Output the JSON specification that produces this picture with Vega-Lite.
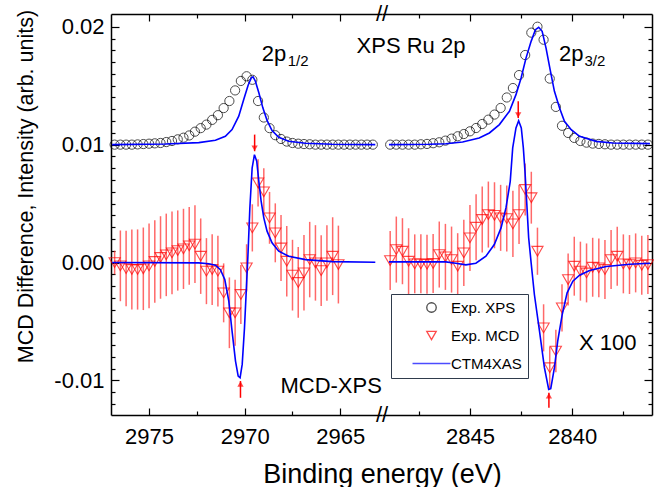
{
  "$schema": "https://vega.github.io/schema/vega-lite/v6.json",
  "padding": {"left": 14, "top": 3, "right": 0, "bottom": 0},
  "spacing": 0,
  "bounds": "flush",
  "config": {
    "font": "Liberation Sans",
    "view": {"stroke": null},
    "axis": {"domainColor": "black", "domainWidth": 1.5, "tickColor": "black", "tickWidth": 1.2, "labelColor": "black", "titleColor": "black", "labelFont": "Liberation Sans", "titleFont": "Liberation Sans", "titleFontWeight": "normal", "grid": false, "labelFontSize": 22, "titleFontSize": 22, "labelOverlap": false}
  },
  "datasets": {
    "xpsL": [
      {"E":2976.8,"v":0.0100},{"E":2976.5,"v":0.0100},{"E":2976.2,"v":0.0100},{"E":2975.9,"v":0.0100},{"E":2975.6,"v":0.01002},{"E":2975.3,"v":0.01005},{"E":2975.0,"v":0.01008},{"E":2974.7,"v":0.01011},{"E":2974.4,"v":0.01014},{"E":2974.1,"v":0.01022},{"E":2973.8,"v":0.01031},{"E":2973.5,"v":0.01045},{"E":2973.2,"v":0.01059},{"E":2972.9,"v":0.01078},{"E":2972.6,"v":0.0111},{"E":2972.3,"v":0.0114},{"E":2972.0,"v":0.0117},{"E":2971.7,"v":0.0121},{"E":2971.4,"v":0.0125},{"E":2971.1,"v":0.0131},{"E":2970.8,"v":0.0137},{"E":2970.5,"v":0.0146},{"E":2970.2,"v":0.0154},{"E":2969.9,"v":0.0158},{"E":2969.6,"v":0.0155},{"E":2969.3,"v":0.0137},{"E":2969.0,"v":0.0123},{"E":2968.7,"v":0.0114},{"E":2968.4,"v":0.0108},{"E":2968.1,"v":0.01048},{"E":2967.8,"v":0.01026},{"E":2967.5,"v":0.01014},{"E":2967.2,"v":0.01008},{"E":2966.9,"v":0.01005},{"E":2966.6,"v":0.01003},{"E":2966.3,"v":0.0100},{"E":2966.0,"v":0.0100},{"E":2965.7,"v":0.0100},{"E":2965.4,"v":0.0100},{"E":2965.1,"v":0.0100},{"E":2964.8,"v":0.0100},{"E":2964.5,"v":0.0100},{"E":2964.2,"v":0.0100},{"E":2963.9,"v":0.0100},{"E":2963.6,"v":0.0100},{"E":2963.3,"v":0.0100}
    ],
    "xpsR": [
      {"E":2848.9,"v":0.0100},{"E":2848.6,"v":0.0100},{"E":2848.3,"v":0.0100},{"E":2848.0,"v":0.0100},{"E":2847.7,"v":0.0100},{"E":2847.4,"v":0.01003},{"E":2847.1,"v":0.01006},{"E":2846.8,"v":0.01012},{"E":2846.5,"v":0.0102},{"E":2846.2,"v":0.01034},{"E":2845.9,"v":0.01051},{"E":2845.6,"v":0.01071},{"E":2845.3,"v":0.0109},{"E":2845.0,"v":0.01113},{"E":2844.7,"v":0.01141},{"E":2844.4,"v":0.01175},{"E":2844.1,"v":0.01212},{"E":2843.8,"v":0.01255},{"E":2843.5,"v":0.01311},{"E":2843.2,"v":0.0140},{"E":2842.9,"v":0.0148},{"E":2842.6,"v":0.0159},{"E":2842.3,"v":0.0176},{"E":2842.0,"v":0.0195},{"E":2841.7,"v":0.0200},{"E":2841.4,"v":0.0189},{"E":2841.1,"v":0.0156},{"E":2840.8,"v":0.0132},{"E":2840.5,"v":0.0116},{"E":2840.2,"v":0.01099},{"E":2839.9,"v":0.01057},{"E":2839.6,"v":0.01031},{"E":2839.3,"v":0.01017},{"E":2839.0,"v":0.01009},{"E":2838.7,"v":0.01006},{"E":2838.4,"v":0.01003},{"E":2838.1,"v":0.0100},{"E":2837.8,"v":0.0100},{"E":2837.5,"v":0.0100},{"E":2837.2,"v":0.0100},{"E":2836.9,"v":0.0100},{"E":2836.6,"v":0.0100},{"E":2836.3,"v":0.0100}
    ],
    "mcdL": [
      {"E":2976.8,"v":0.0000,"err":0.0010},{"E":2976.5,"v":-0.00028,"err":0.0030},{"E":2976.2,"v":-0.00051,"err":0.0032},{"E":2975.9,"v":-0.00059,"err":0.0034},{"E":2975.6,"v":-0.00059,"err":0.0034},{"E":2975.3,"v":-0.00053,"err":0.0035},{"E":2975.0,"v":-0.00028,"err":0.0036},{"E":2974.7,"v":0.00009,"err":0.0035},{"E":2974.4,"v":0.00043,"err":0.0035},{"E":2974.1,"v":0.00065,"err":0.0035},{"E":2973.8,"v":0.00082,"err":0.0035},{"E":2973.5,"v":0.00102,"err":0.0034},{"E":2973.2,"v":0.00116,"err":0.0034},{"E":2972.9,"v":0.00142,"err":0.0033},{"E":2972.6,"v":0.00156,"err":0.0033},{"E":2972.3,"v":0.00054,"err":0.0032},{"E":2972.0,"v":-0.00073,"err":0.0028},{"E":2971.7,"v":-0.00059,"err":0.0030},{"E":2971.4,"v":-0.00073,"err":0.0030},{"E":2971.1,"v":-0.00257,"err":0.0025},{"E":2970.8,"v":-0.00426,"err":0.0030},{"E":2970.5,"v":-0.00426,"err":0.0028},{"E":2970.2,"v":-0.00271,"err":0.0025},{"E":2969.9,"v":-0.00045,"err":0.0020},{"E":2969.6,"v":0.00294,"err":0.0020},{"E":2969.3,"v":0.00676,"err":0.0020},{"E":2969.0,"v":0.0060,"err":0.0020},{"E":2968.7,"v":0.00379,"err":0.0022},{"E":2968.4,"v":0.00252,"err":0.0025},{"E":2968.1,"v":0.00124,"err":0.0028},{"E":2967.8,"v":0.00011,"err":0.0030},{"E":2967.5,"v":-0.00107,"err":0.0030},{"E":2967.2,"v":-0.00169,"err":0.0030},{"E":2966.9,"v":-0.00087,"err":0.0032},{"E":2966.6,"v":0.00025,"err":0.0032},{"E":2966.3,"v":-0.00003,"err":0.0032},{"E":2966.0,"v":-0.00068,"err":0.0030},{"E":2965.7,"v":-0.00003,"err":0.0032},{"E":2965.4,"v":0.00054,"err":0.0033},{"E":2965.1,"v":-0.00017,"err":0.0033}
    ],
    "mcdR": [
      {"E":2848.9,"v":0.00017,"err":0.0025},{"E":2848.6,"v":0.0011,"err":0.0028},{"E":2848.3,"v":0.00096,"err":0.0028},{"E":2848.0,"v":0.00011,"err":0.0028},{"E":2847.7,"v":-0.00011,"err":0.0025},{"E":2847.4,"v":-0.00011,"err":0.0025},{"E":2847.1,"v":-0.00014,"err":0.0025},{"E":2846.8,"v":-0.00008,"err":0.0025},{"E":2846.5,"v":0.00068,"err":0.0028},{"E":2846.2,"v":0.00048,"err":0.0028},{"E":2845.9,"v":0.00025,"err":0.0028},{"E":2845.6,"v":-0.00031,"err":0.0028},{"E":2845.3,"v":0.00082,"err":0.0028},{"E":2845.0,"v":0.00209,"err":0.0028},{"E":2844.7,"v":0.0030,"err":0.0028},{"E":2844.4,"v":0.00365,"err":0.0028},{"E":2844.1,"v":0.00407,"err":0.0028},{"E":2843.8,"v":0.00401,"err":0.0028},{"E":2843.5,"v":0.00379,"err":0.0028},{"E":2843.2,"v":0.00373,"err":0.0028},{"E":2842.9,"v":0.00328,"err":0.0028},{"E":2842.6,"v":0.00407,"err":0.0025},{"E":2842.3,"v":0.0062,"err":0.0022},{"E":2842.0,"v":0.0055,"err":0.0022},{"E":2841.7,"v":0.00096,"err":0.0020},{"E":2841.4,"v":-0.00554,"err":0.0020},{"E":2841.1,"v":-0.00892,"err":0.0018},{"E":2840.8,"v":-0.00751,"err":0.0018},{"E":2840.5,"v":-0.00384,"err":0.0020},{"E":2840.2,"v":-0.00144,"err":0.0022},{"E":2839.9,"v":-0.00031,"err":0.0025},{"E":2839.6,"v":-0.00073,"err":0.0025},{"E":2839.3,"v":-0.00088,"err":0.0025},{"E":2839.0,"v":-0.0004,"err":0.0025},{"E":2838.7,"v":-0.00045,"err":0.0025},{"E":2838.4,"v":-0.00059,"err":0.0025},{"E":2838.1,"v":0.00025,"err":0.0025},{"E":2837.8,"v":0.00054,"err":0.0025},{"E":2837.5,"v":-0.00011,"err":0.0025},{"E":2837.2,"v":-0.00017,"err":0.0025},{"E":2836.9,"v":-0.00003,"err":0.0025},{"E":2836.6,"v":-0.00023,"err":0.0025},{"E":2836.3,"v":-0.00017,"err":0.0025}
    ],
    "ctmL": [
      {"c":"xps","E":2976.93,"v":0.0100},{"c":"xps","E":2974.14,"v":0.01006},{"c":"xps","E":2972.40,"v":0.01017},{"c":"xps","E":2971.53,"v":0.01037},{"c":"xps","E":2971.01,"v":0.01071},{"c":"xps","E":2970.66,"v":0.01128},{"c":"xps","E":2970.31,"v":0.01241},{"c":"xps","E":2970.05,"v":0.01382},{"c":"xps","E":2969.82,"v":0.01504},{"c":"xps","E":2969.65,"v":0.01567},{"c":"xps","E":2969.56,"v":0.01575},{"c":"xps","E":2969.44,"v":0.01538},{"c":"xps","E":2969.26,"v":0.0144},{"c":"xps","E":2969.05,"v":0.01312},{"c":"xps","E":2968.83,"v":0.01205},{"c":"xps","E":2968.57,"v":0.0112},{"c":"xps","E":2968.22,"v":0.01063},{"c":"xps","E":2967.70,"v":0.01029},{"c":"xps","E":2966.82,"v":0.01012},{"c":"xps","E":2965.43,"v":0.01003},{"c":"xps","E":2963.17,"v":0.0100},
      {"c":"mcd","E":2976.93,"v":0.0},{"c":"mcd","E":2972.40,"v":-0.00003},{"c":"mcd","E":2971.88,"v":-0.0001},{"c":"mcd","E":2971.53,"v":-0.00023},{"c":"mcd","E":2971.27,"v":-0.0006},{"c":"mcd","E":2971.04,"v":-0.00144},{"c":"mcd","E":2970.83,"v":-0.00328},{"c":"mcd","E":2970.66,"v":-0.00582},{"c":"mcd","E":2970.48,"v":-0.00836},{"c":"mcd","E":2970.34,"v":-0.00963},{"c":"mcd","E":2970.24,"v":-0.00977},{"c":"mcd","E":2970.13,"v":-0.00864},{"c":"mcd","E":2970.01,"v":-0.00554},{"c":"mcd","E":2969.91,"v":-0.00215},{"c":"mcd","E":2969.82,"v":0.00096},{"c":"mcd","E":2969.73,"v":0.00463},{"c":"mcd","E":2969.61,"v":0.00802},{"c":"mcd","E":2969.49,"v":0.00915},{"c":"mcd","E":2969.37,"v":0.00859},{"c":"mcd","E":2969.26,"v":0.00689},{"c":"mcd","E":2969.14,"v":0.0052},{"c":"mcd","E":2969.00,"v":0.00379},{"c":"mcd","E":2968.83,"v":0.00266},{"c":"mcd","E":2968.57,"v":0.00167},{"c":"mcd","E":2968.22,"v":0.00096},{"c":"mcd","E":2967.70,"v":0.00054},{"c":"mcd","E":2966.82,"v":0.00025},{"c":"mcd","E":2965.43,"v":0.00008},{"c":"mcd","E":2963.17,"v":0.00003}
    ],
    "ctmR": [
      {"c":"xps","E":2848.96,"v":0.0100},{"c":"xps","E":2847.0,"v":0.01003},{"c":"xps","E":2846.18,"v":0.01008},{"c":"xps","E":2845.36,"v":0.01023},{"c":"xps","E":2844.55,"v":0.01057},{"c":"xps","E":2844.05,"v":0.01099},{"c":"xps","E":2843.56,"v":0.0117},{"c":"xps","E":2843.07,"v":0.01283},{"c":"xps","E":2842.75,"v":0.01424},{"c":"xps","E":2842.50,"v":0.01565},{"c":"xps","E":2842.26,"v":0.01734},{"c":"xps","E":2842.01,"v":0.01876},{"c":"xps","E":2841.80,"v":0.01975},{"c":"xps","E":2841.64,"v":0.01995},{"c":"xps","E":2841.47,"v":0.01961},{"c":"xps","E":2841.28,"v":0.01819},{"c":"xps","E":2841.08,"v":0.01636},{"c":"xps","E":2840.87,"v":0.01452},{"c":"xps","E":2840.62,"v":0.01311},{"c":"xps","E":2840.38,"v":0.01198},{"c":"xps","E":2840.05,"v":0.01127},{"c":"xps","E":2839.64,"v":0.01071},{"c":"xps","E":2838.83,"v":0.01028},{"c":"xps","E":2838.02,"v":0.01014},{"c":"xps","E":2836.2,"v":0.01009},
      {"c":"mcd","E":2848.96,"v":0.00006},{"c":"mcd","E":2846.18,"v":0.00006},{"c":"mcd","E":2845.69,"v":-0.00006},{"c":"mcd","E":2845.20,"v":-0.0002},{"c":"mcd","E":2844.71,"v":-0.00006},{"c":"mcd","E":2844.22,"v":0.00054},{"c":"mcd","E":2843.81,"v":0.00153},{"c":"mcd","E":2843.48,"v":0.00294},{"c":"mcd","E":2843.24,"v":0.00463},{"c":"mcd","E":2843.03,"v":0.00689},{"c":"mcd","E":2842.91,"v":0.00972},{"c":"mcd","E":2842.75,"v":0.01142},{"c":"mcd","E":2842.62,"v":0.01203},{"c":"mcd","E":2842.49,"v":0.01142},{"c":"mcd","E":2842.39,"v":0.00972},{"c":"mcd","E":2842.31,"v":0.00774},{"c":"mcd","E":2842.21,"v":0.00464},{"c":"mcd","E":2842.13,"v":0.0021},{"c":"mcd","E":2842.01,"v":0.0},{"c":"mcd","E":2841.85,"v":-0.00271},{"c":"mcd","E":2841.60,"v":-0.00582},{"c":"mcd","E":2841.36,"v":-0.00892},{"c":"mcd","E":2841.15,"v":-0.01076},{"c":"mcd","E":2841.05,"v":-0.0107},{"c":"mcd","E":2840.87,"v":-0.00892},{"c":"mcd","E":2840.71,"v":-0.00666},{"c":"mcd","E":2840.49,"v":-0.00441},{"c":"mcd","E":2840.25,"v":-0.00257},{"c":"mcd","E":2839.97,"v":-0.00158},{"c":"mcd","E":2839.64,"v":-0.00107},{"c":"mcd","E":2839.15,"v":-0.00068},{"c":"mcd","E":2838.34,"v":-0.00034},{"c":"mcd","E":2837.19,"v":-0.00014},{"c":"mcd","E":2836.2,"v":-0.00006}
    ],
    "arrL": [{"E":2969.48,"v":0.00944,"v2":0.01085,"dir":"down"},{"E":2970.22,"v":-0.01005,"v2":-0.01147,"dir":"up"}],
    "arrR": [{"E":2842.64,"v":0.01226,"v2":0.01368,"dir":"down"},{"E":2841.14,"v":-0.01104,"v2":-0.01231,"dir":"up"}]
  },
  "hconcat": [
    {
      "width": 271,
      "height": 401,
      "resolve": {"axis": {"x": "independent", "y": "independent"}},
      "layer": [
        {
          "data": {"name": "mcdL"},
          "mark": {"type": "errorbar", "color": "#ff2a2a", "opacity": 0.7, "thickness": 1.5},
          "encoding": {
            "x": {"field": "E", "type": "quantitative", "scale": {"domain": [2962.82, 2976.99], "reverse": true, "nice": false, "zero": false}, "axis": null},
            "y": {"field": "v", "type": "quantitative", "scale": {"domain": [-0.01293, 0.02108], "nice": false, "zero": false}, "axis": null},
            "yError": {"field": "err"}
          }
        },
        {
          "mark": {"type": "rule", "color": "black", "strokeWidth": 1.5},
          "encoding": {"y": {"datum": 0, "type": "quantitative", "axis": null}}
        },
        {
          "data": {"name": "mcdL"},
          "mark": {"type": "point", "filled": false, "size": 125, "strokeWidth": 1.1},
          "encoding": {
            "x": {"field": "E", "type": "quantitative", "axis": {"orient": "top", "values": [2975, 2970, 2965], "labels": false, "title": null, "tickSize": -7}},
            "y": {"field": "v", "type": "quantitative", "axis": {"orient": "left", "values": [-0.012, -0.011, -0.009, -0.008, -0.007, -0.006, -0.005, -0.004, -0.003, -0.002, -0.001, 0.001, 0.002, 0.003, 0.004, 0.005, 0.006, 0.007, 0.008, 0.009, 0.011, 0.012, 0.013, 0.014, 0.015, 0.016, 0.017, 0.018, 0.019], "labels": false, "title": null, "tickSize": -4, "domain": false}},
            "color": {"datum": "Exp. MCD", "type": "nominal", "scale": {"domain": ["Exp. XPS", "Exp. MCD", "CTM4XAS"], "range": ["black", "red", "blue"]}},
            "shape": {"datum": "Exp. MCD", "type": "nominal", "scale": {"domain": ["Exp. XPS", "Exp. MCD", "CTM4XAS"], "range": ["circle", "triangle-down", "M-4,0H4"]}}
          }
        },
        {
          "data": {"name": "xpsL"},
          "mark": {"type": "point", "filled": false, "size": 85, "strokeWidth": 1},
          "encoding": {
            "x": {"field": "E", "type": "quantitative", "axis": {"orient": "bottom", "values": [2975, 2970, 2965], "format": "d", "tickSize": -7, "labelPadding": 18, "title": "Binding energy (eV)", "titleX": 271, "titleY": 67, "titleAlign": "center", "titleBaseline": "alphabetic", "titleFontSize": 27}},
            "y": {"field": "v", "type": "quantitative", "axis": {"orient": "left", "values": [-0.01, 0, 0.01, 0.02], "labelExpr": "replace(format(datum.value, '.2f'), '\u2212', '-')", "tickSize": -8, "labelPadding": 15, "title": "MCD Difference, Intensity (arb. units)", "titleFontSize": 21.5, "titleAngle": -90, "titleX": -79, "titleY": 172, "titleAlign": "center", "titleBaseline": "alphabetic"}},
            "color": {"datum": "Exp. XPS", "type": "nominal", "legend": {"orient": "none", "legendX": 280, "legendY": 280, "title": null, "strokeColor": "#2f3b4c", "fillColor": "white", "padding": 6, "labelFontSize": 15, "labelColor": "black", "labelFont": "Liberation Sans", "symbolSize": 90, "rowPadding": 12, "symbolOffset": 27, "labelOffset": 12, "symbolStrokeWidth": 1.3, "encode": {"legend": {"update": {"strokeWidth": {"value": 1.5}}}}}},
            "shape": {"datum": "Exp. XPS", "type": "nominal"}
          }
        },
        {
          "data": {"name": "ctmL"},
          "mark": {"type": "line", "strokeWidth": 1.6},
          "encoding": {
            "x": {"field": "E", "type": "quantitative", "axis": {"orient": "bottom", "values": [2972.5, 2967.5], "labels": false, "title": null, "tickSize": -4, "domain": false}},
            "y": {"field": "v", "type": "quantitative", "axis": null},
            "detail": {"field": "c", "type": "nominal"},
            "color": {"datum": "CTM4XAS", "type": "nominal"}
          }
        },
        {
          "data": {"name": "arrL"},
          "mark": {"type": "rule", "color": "red", "strokeWidth": 1.5},
          "encoding": {
            "x": {"field": "E", "type": "quantitative", "axis": {"orient": "top", "values": [2972.5, 2967.5], "labels": false, "title": null, "tickSize": -4, "domain": false}},
            "y": {"field": "v", "type": "quantitative", "axis": null},
            "y2": {"field": "v2"}
          }
        },
        {
          "data": {"name": "arrL"},
          "transform": [{"filter": "datum.dir == 'down'"}],
          "mark": {"type": "point", "shape": "triangle-down", "filled": true, "color": "red", "size": 40, "yOffset": -3},
          "encoding": {
            "x": {"field": "E", "type": "quantitative", "axis": null},
            "y": {"field": "v", "type": "quantitative", "axis": null}
          }
        },
        {
          "data": {"name": "arrL"},
          "transform": [{"filter": "datum.dir == 'up'"}],
          "mark": {"type": "point", "shape": "triangle-up", "filled": true, "color": "red", "size": 40, "yOffset": 3},
          "encoding": {
            "x": {"field": "E", "type": "quantitative", "axis": null},
            "y": {"field": "v", "type": "quantitative", "axis": null}
          }
        },
        {
          "data": {"values": [{"E": 2969.11, "v": 0.01709, "t": "2p"}, {"E": 2964.15, "v": 0.01777, "t": "XPS Ru 2p"}, {"E": 2968.13, "v": -0.01104, "t": "MCD-XPS"}]},
          "mark": {"type": "text", "align": "left", "baseline": "alphabetic", "fontSize": 22, "color": "black"},
          "encoding": {
            "x": {"field": "E", "type": "quantitative", "axis": null},
            "y": {"field": "v", "type": "quantitative", "axis": null},
            "text": {"field": "t"}
          }
        },
        {
          "data": {"values": [{"E": 2967.75, "v": 0.01667, "t": "1/2"}]},
          "mark": {"type": "text", "align": "left", "baseline": "alphabetic", "fontSize": 15, "color": "black"},
          "encoding": {
            "x": {"field": "E", "type": "quantitative", "axis": null},
            "y": {"field": "v", "type": "quantitative", "axis": null},
            "text": {"field": "t"}
          }
        }
      ]
    },
    {
      "width": 270,
      "height": 401,
      "resolve": {"axis": {"x": "independent", "y": "independent"}},
      "layer": [
        {
          "data": {"name": "mcdR"},
          "mark": {"type": "errorbar", "color": "#ff2a2a", "opacity": 0.7, "thickness": 1.5},
          "encoding": {
            "x": {"field": "E", "type": "quantitative", "scale": {"domain": [2836.1, 2849.3], "reverse": true, "nice": false, "zero": false}, "axis": null},
            "y": {"field": "v", "type": "quantitative", "scale": {"domain": [-0.01293, 0.02108], "nice": false, "zero": false}, "axis": null},
            "yError": {"field": "err"}
          }
        },
        {
          "mark": {"type": "rule", "color": "black", "strokeWidth": 1.5},
          "encoding": {"y": {"datum": 0, "type": "quantitative", "axis": null}}
        },
        {
          "data": {"name": "mcdR"},
          "mark": {"type": "point", "filled": false, "size": 125, "strokeWidth": 1.1},
          "encoding": {
            "x": {"field": "E", "type": "quantitative", "axis": {"orient": "top", "values": [2845, 2840], "labels": false, "title": null, "tickSize": -7}},
            "y": {"field": "v", "type": "quantitative", "axis": {"orient": "right", "values": [-0.012, -0.011, -0.009, -0.008, -0.007, -0.006, -0.005, -0.004, -0.003, -0.002, -0.001, 0.001, 0.002, 0.003, 0.004, 0.005, 0.006, 0.007, 0.008, 0.009, 0.011, 0.012, 0.013, 0.014, 0.015, 0.016, 0.017, 0.018, 0.019], "labels": false, "title": null, "tickSize": -4, "domain": false}},
            "color": {"datum": "Exp. MCD", "type": "nominal"},
            "shape": {"datum": "Exp. MCD", "type": "nominal"}
          }
        },
        {
          "data": {"name": "xpsR"},
          "mark": {"type": "point", "filled": false, "size": 85, "strokeWidth": 1},
          "encoding": {
            "x": {"field": "E", "type": "quantitative", "axis": {"orient": "bottom", "values": [2845, 2840], "format": "d", "tickSize": -7, "labelPadding": 18, "title": null}},
            "y": {"field": "v", "type": "quantitative", "axis": {"orient": "right", "values": [-0.01, 0, 0.01, 0.02], "labels": false, "title": null, "tickSize": -8}},
            "color": {"datum": "Exp. XPS", "type": "nominal"},
            "shape": {"datum": "Exp. XPS", "type": "nominal"}
          }
        },
        {
          "data": {"name": "ctmR"},
          "mark": {"type": "line", "strokeWidth": 1.6},
          "encoding": {
            "x": {"field": "E", "type": "quantitative", "axis": {"orient": "bottom", "values": [2847.5, 2842.5, 2837.5], "labels": false, "title": null, "tickSize": -4, "domain": false}},
            "y": {"field": "v", "type": "quantitative", "axis": null},
            "detail": {"field": "c", "type": "nominal"},
            "color": {"datum": "CTM4XAS", "type": "nominal"}
          }
        },
        {
          "data": {"name": "arrR"},
          "mark": {"type": "rule", "color": "red", "strokeWidth": 1.5},
          "encoding": {
            "x": {"field": "E", "type": "quantitative", "axis": {"orient": "top", "values": [2847.5, 2842.5, 2837.5], "labels": false, "title": null, "tickSize": -4, "domain": false}},
            "y": {"field": "v", "type": "quantitative", "axis": null},
            "y2": {"field": "v2"}
          }
        },
        {
          "data": {"name": "arrR"},
          "transform": [{"filter": "datum.dir == 'down'"}],
          "mark": {"type": "point", "shape": "triangle-down", "filled": true, "color": "red", "size": 40, "yOffset": -3},
          "encoding": {
            "x": {"field": "E", "type": "quantitative", "axis": null},
            "y": {"field": "v", "type": "quantitative", "axis": null}
          }
        },
        {
          "data": {"name": "arrR"},
          "transform": [{"filter": "datum.dir == 'up'"}],
          "mark": {"type": "point", "shape": "triangle-up", "filled": true, "color": "red", "size": 40, "yOffset": 3},
          "encoding": {
            "x": {"field": "E", "type": "quantitative", "axis": null},
            "y": {"field": "v", "type": "quantitative", "axis": null}
          }
        },
        {
          "data": {"values": [{"E": 2840.65, "v": 0.01707, "t": "2p"}, {"E": 2839.67, "v": -0.00742, "t": "X 100"}]},
          "mark": {"type": "text", "align": "left", "baseline": "alphabetic", "fontSize": 22, "color": "black"},
          "encoding": {
            "x": {"field": "E", "type": "quantitative", "axis": null},
            "y": {"field": "v", "type": "quantitative", "axis": null},
            "text": {"field": "t"}
          }
        },
        {
          "data": {"values": [{"E": 2839.4, "v": 0.01671, "t": "3/2"}]},
          "mark": {"type": "text", "align": "left", "baseline": "alphabetic", "fontSize": 15, "color": "black"},
          "encoding": {
            "x": {"field": "E", "type": "quantitative", "axis": null},
            "y": {"field": "v", "type": "quantitative", "axis": null},
            "text": {"field": "t"}
          }
        },
        {
          "data": {"values": [{"E": 2849.3, "v": 0.02108, "t": "//"}, {"E": 2849.3, "v": -0.01293, "t": "//"}]},
          "mark": {"type": "text", "align": "center", "baseline": "middle", "fontSize": 22, "color": "black"},
          "encoding": {
            "x": {"field": "E", "type": "quantitative", "axis": null},
            "y": {"field": "v", "type": "quantitative", "axis": null},
            "text": {"field": "t"}
          }
        }
      ]
    }
  ]
}
